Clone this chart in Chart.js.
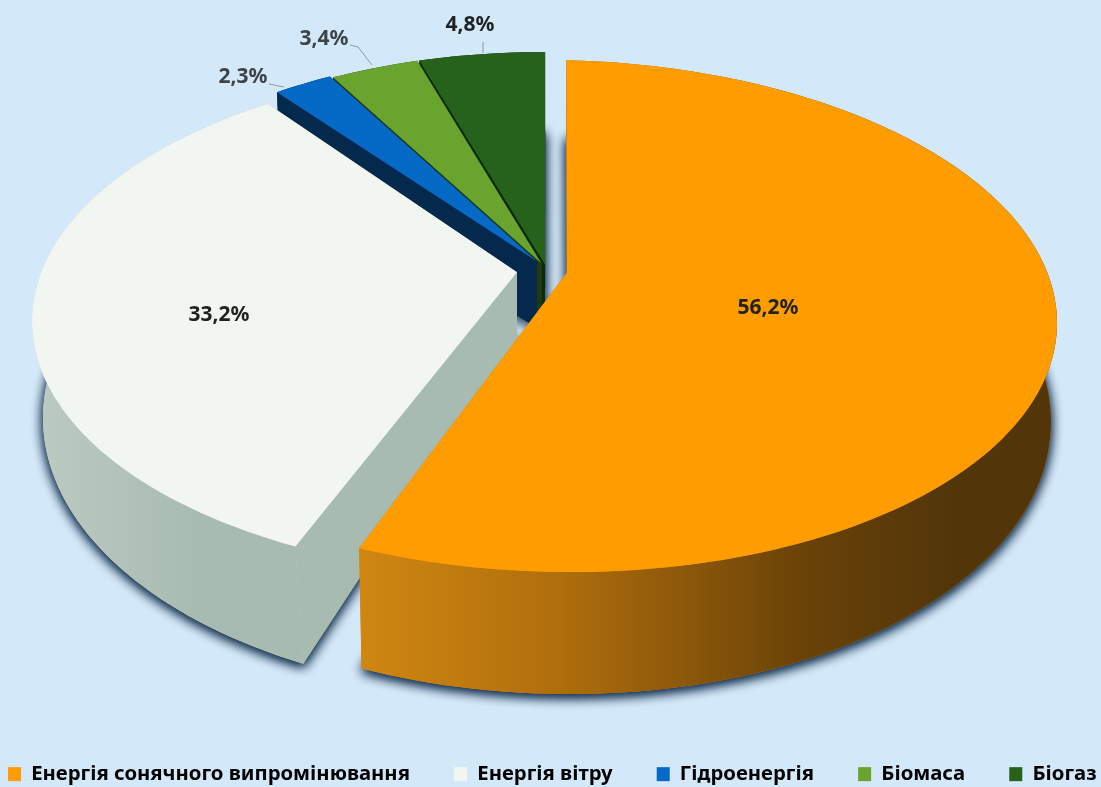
<!DOCTYPE html>
<html lang="uk">
<head>
<meta charset="utf-8">
<title>Енергія</title>
<script src="https://cdn.jsdelivr.net/npm/chart.js@4"></script>
<style>
    html, body { margin: 0; padding: 0; background: #d3e8f8; }
    canvas { display: block; }
</style>
</head>
<body>
<canvas id="chart" width="1101" height="787"></canvas>
<script>
const categories = ['Енергія сонячного випромінювання', 'Енергія вітру', 'Гідроенергія', 'Біомаса', 'Біогаз'];
const shares = [56.2, 33.2, 2.3, 3.4, 4.8];
const shareLabels = ['56,2%', '33,2%', '2,3%', '3,4%', '4,8%'];

const topColors = ['#ff9c00', '#f1f7f0', '#0569c6', '#68a42e', '#27621c'];
const wallStops = [
    [[360, '#cf8712'], [560, '#b06e0c'], [800, '#6a4308'], [950, '#52360a']],
    [[30, '#bccbc1'], [200, '#a8bbb1']],
    [[0, '#04294d']],
    [[0, '#1d3a10']],
    [[0, '#0c2a0c']],
];

// the view of the disc: an ellipse seen in perspective, tilt moves the centre point back
const view = { cx: 545, cy: 312, rx: 500, ry: 256, bottomRy: 279, bottomRx: 494, apexDepth: 66 };
const explodeX = [12, -13, 10, 9, 2];
const explodeY = [4, 9, -7, -5, -4];
const skewX = [0.02, -0.03, -0.036, -0.025, -0.004];
const tilt = [-0.17, -0.19, -0.17, -0.17, -0.17];
const slope = [0.014, 0, 0, 0, 0];
const depth = [99, 97, 102, 102, 102];
const bottomShift = [0, 5, 0, 0, 0];
// the printed slices are not drawn exactly to their share, these bring the edges back
const startFix = [0, -0.009, 0, 0, 0];
const sweepFix = [0.991, 1.014, 1, 1, 1];

const labelX = [768, 219, 243, 324, 470];
const labelY = [308, 315, 77, 39, 25];
const leaderLines = [null, null, [[269, 84], [284, 87]], [[350, 45], [358, 47], [372, 65]], [[483, 42], [483, 53]]];

// legend gaps are made with no-break spaces, real padding would wrap the row
const legendGaps = [8, 8, 8, 8, 0];

function onDisc(a, theta) {
    const px = Math.sin(theta), py = -Math.cos(theta);
    const aa = a.x * a.x + a.y * a.y;
    const dot = a.x * px + a.y * py;
    const g = Math.sqrt(1 - aa);
    const parX = a.x * dot / aa, parY = a.y * dot / aa;
    const d = 1 + dot;
    return {
        x: (a.x + parX + g * (px - parX)) / d,
        y: (a.y + parY + g * (py - parY)) / d,
    };
}

function sliceShape(arc, i) {
    const { startAngle, endAngle } = arc.getProps(['startAngle', 'endAngle'], true);
    const sweep = (endAngle - startAngle) * sweepFix[i];
    const a = { x: skewX[i], y: tilt[i] };
    const cx = view.cx + explodeX[i];
    const cy = view.cy + explodeY[i];
    const top = [], bottom = [];
    const steps = Math.max(6, Math.round(sweep * 40));
    for (let s = 0; s <= steps; s++) {
        const t = startAngle + startFix[i] + sweep * s / steps + Math.PI / 2;
        const p = onDisc(a, t);
        const xTop = cx + p.x * view.rx;
        const xLow = cx + p.x * view.bottomRx + bottomShift[i];
        top.push({ x: xTop, y: cy + p.y * view.ry + slope[i] * (xTop - cx) });
        bottom.push({ x: xLow, y: cy + depth[i] + p.y * view.bottomRy + slope[i] * (xLow - cx) });
    }
    const apex = { x: cx + a.x * view.rx, y: cy + a.y * view.ry };
    const apexLow = { x: apex.x, y: apex.y + view.apexDepth };
    return { top, bottom, apex, apexLow };
}

function fillPoly(ctx, points, fill) {
    ctx.beginPath();
    points.forEach((p, k) => k ? ctx.lineTo(p.x, p.y) : ctx.moveTo(p.x, p.y));
    ctx.closePath();
    ctx.fillStyle = fill;
    ctx.fill();
}

const pie3d = {
    id: 'pie3d',
    afterLayout(chart) {
        chart.legend.top = 762;
        chart.legend.left = 6;
        chart.legend.right = 1115;
    },
    beforeDatasetDraw(chart) {
        const ctx = chart.ctx;
        const arcs = chart.getDatasetMeta(0).data;
        const shapes = arcs.map(sliceShape);
        const order = [4, 3, 2, 1, 0];

        ctx.save();
        ctx.shadowColor = 'rgba(8,36,66,0.85)';
        ctx.shadowBlur = 12;
        ctx.shadowOffsetX = 0;
        ctx.shadowOffsetY = 3;
        [0, 1].forEach(() => {
            order.forEach(i => fillPoly(ctx, [shapes[i].apexLow, ...shapes[i].bottom], wallStops[i][0][1]));
        });
        ctx.restore();

        order.forEach(i => {
            const s = shapes[i];
            const last = s.top.length - 1;
            const stops = wallStops[i];
            const wall = ctx.createLinearGradient(stops[0][0], 0, stops[stops.length - 1][0] + 1, 0);
            const span = stops[stops.length - 1][0] + 1 - stops[0][0];
            stops.forEach(st => wall.addColorStop((st[0] - stops[0][0]) / span, st[1]));
            fillPoly(ctx, [s.apex, s.top[0], s.bottom[0], s.apexLow], wall);
            fillPoly(ctx, [s.apex, s.top[last], s.bottom[last], s.apexLow], wall);
            fillPoly(ctx, [...s.top, ...s.bottom.slice().reverse()], wall);
            fillPoly(ctx, [s.apex, ...s.top], topColors[i]);
        });

        ctx.save();
        ctx.font = 'bold 21px "Noto Sans"';
        ctx.textAlign = 'center';
        ctx.textBaseline = 'middle';
        shareLabels.forEach((text, i) => {
            ctx.fillStyle = i === 2 || i === 3 ? '#3d4448' : '#1f2123';
            ctx.fillText(text, labelX[i], labelY[i]);
            if (leaderLines[i]) {
                ctx.beginPath();
                leaderLines[i].forEach((p, k) => k ? ctx.lineTo(p[0], p[1]) : ctx.moveTo(p[0], p[1]));
                ctx.strokeStyle = '#8f9a9c';
                ctx.lineWidth = 1;
                ctx.stroke();
            }
        });
        ctx.restore();
        return false;
    },
};

new Chart(document.getElementById('chart'), {
    type: 'pie',
    data: {
        labels: categories,
        datasets: [{
            data: shares,
            backgroundColor: topColors,
            borderWidth: 0,
        }],
    },
    options: {
        responsive: false,
        animation: false,
        plugins: {
            tooltip: { enabled: false },
            legend: {
                position: 'bottom',
                align: 'start',
                labels: {
                    boxWidth: 13,
                    boxHeight: 14,
                    padding: 2,
                    color: '#26282a',
                    font: { family: '"Noto Sans"', size: 20.3, weight: 'bold' },
                    generateLabels(chart) {
                        return categories.map((name, i) => ({
                            text: name + '\u00a0'.repeat(legendGaps[i]),
                            fillStyle: topColors[i],
                            strokeStyle: topColors[i],
                            lineWidth: 0,
                            index: i,
                        }));
                    },
                },
            },
        },
    },
    plugins: [pie3d],
});
</script>
</body>
</html>
